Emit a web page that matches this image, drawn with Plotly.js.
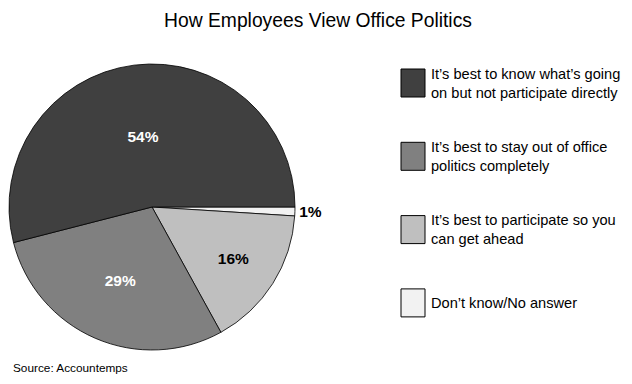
<!DOCTYPE html>
<html><head><meta charset="utf-8">
<script src="https://cdn.plot.ly/plotly-3.0.1.min.js"></script>
<style>html,body{margin:0;padding:0;background:#fff}</style>
</head><body><div id="chart" style="width:632px;height:384px"></div>
<script>
const categories = [
  "It\u2019s best to know what\u2019s going<br>on but not participate directly",
  "It\u2019s best to stay out of office<br>politics completely",
  "It\u2019s best to participate so you<br>can get ahead",
  "Don\u2019t know/No answer"
];
const values = [54, 29, 16, 1];
const colors = ["#404040", "#808080", "#bfbfbf", "#f2f2f2"];
const textColors = ["#ffffff", "#ffffff", "#000000", "#000000"];
const textPositions = ["inside", "inside", "inside", "outside"];
const titleText = "How Employees View Office Politics";
const sourceText = "Source: Accountemps";

const FONT = "Liberation Sans, Arial, sans-serif";
const W = 632, H = 384;
const legendTop = 83, legendStep = 73.3;

const shapes = [], annotations = [];
categories.forEach((c, i) => {
  const cy = legendTop + i * legendStep;
  shapes.push({type: "rect", xref: "paper", yref: "paper",
    x0: 401 / W, x1: 425 / W, y0: 1 - (cy - 14) / H, y1: 1 - (cy + 14) / H,
    fillcolor: colors[i], line: {color: "#000", width: 1}});
  annotations.push({xref: "paper", yref: "paper", x: 429 / W, y: 1 - cy / H,
    xanchor: "left", yanchor: "middle", align: "left", showarrow: false,
    text: c, font: {family: FONT, size: 14.6, color: "#000"}});
});
annotations.push({xref: "paper", yref: "paper", x: 11 / W, y: 1 - 368 / H,
  xanchor: "left", yanchor: "middle", showarrow: false, text: sourceText,
  font: {family: FONT, size: 11.8, color: "#000"}});

// drawn clockwise from 3 o'clock in reverse order == counterclockwise in original order
const rev = a => a.slice().reverse();
const cx = 152, cyP = 207, R = 143;
const trace = {
  type: "pie", values: rev(values), labels: rev(categories), sort: false,
  direction: "clockwise", rotation: 90,
  marker: {colors: rev(colors), line: {color: "#000", width: 0.8}},
  texttemplate: "<b>%{percent:.0%}</b>",
  textposition: rev(textPositions),
  insidetextorientation: "horizontal",
  textfont: {family: FONT, size: 15.5, color: rev(textColors)},
  outsidetextfont: {family: FONT, size: 15.5, color: "#000"},
  hoverinfo: "none", showlegend: false,
  domain: {x: [(cx - R) / W, (cx + R) / W], y: [1 - (cyP + R) / H, 1 - (cyP - R) / H]}
};

Plotly.newPlot("chart", [trace], {
  width: W, height: H, margin: {l: 0, r: 0, t: 0, b: 0},
  paper_bgcolor: "#fff",
  title: {text: titleText, x: 318 / W, xanchor: "center", y: 1 - 20 / H, yanchor: "middle",
    font: {family: FONT, size: 19.3, color: "#000"}},
  shapes: shapes, annotations: annotations, showlegend: false
}, {displayModeBar: false, staticPlot: true});
</script></body></html>
